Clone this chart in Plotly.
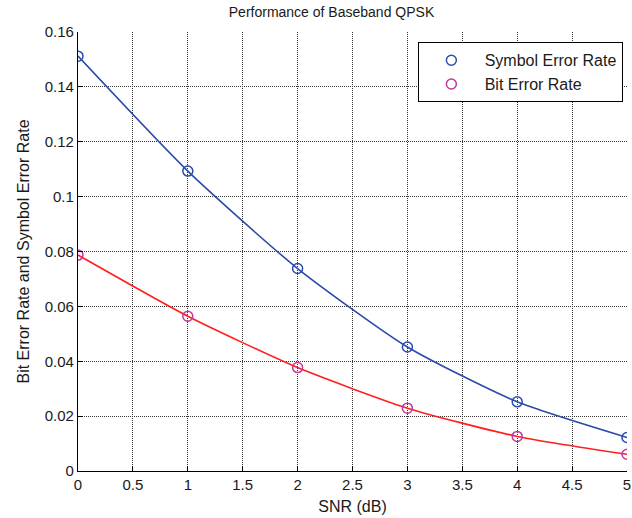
import plotly.graph_objects as go

snr_db = [0, 1, 2, 3, 4, 5]
symbol_error_rate = [0.1512, 0.1093, 0.0738, 0.0452, 0.0252, 0.0122]
bit_error_rate = [0.0787, 0.0564, 0.0377, 0.0229, 0.0126, 0.0061]
x_ticks = [0, 0.5, 1, 1.5, 2, 2.5, 3, 3.5, 4, 4.5, 5]
y_ticks = [0, 0.02, 0.04, 0.06, 0.08, 0.1, 0.12, 0.14, 0.16]
y_tick_text = ["0", "0.02", "0.04", "0.06", "0.08", "0.1", "0.12", "0.14", "0.16"]

ser_line = "#2b4ba8"
ser_marker = "#2b4bb0"
ber_line = "#ff1f1f"
ber_marker = "#c2399e"

fig = go.Figure()
fig.add_trace(go.Scatter(x=snr_db, y=symbol_error_rate, mode="lines",
                         line=dict(color=ser_line, width=1.6, shape="spline", smoothing=0.6),
                         showlegend=False, hoverinfo="skip"))
fig.add_trace(go.Scatter(x=snr_db, y=bit_error_rate, mode="lines",
                         line=dict(color=ber_line, width=1.6, shape="spline", smoothing=0.6),
                         showlegend=False, hoverinfo="skip"))
fig.add_trace(go.Scatter(x=snr_db, y=symbol_error_rate, mode="markers",
                         name="&nbsp;&nbsp;&nbsp;Symbol Error Rate",
                         marker=dict(symbol="circle-open", size=10, color=ser_marker,
                                     line=dict(width=1.5, color=ser_marker))))
fig.add_trace(go.Scatter(x=snr_db, y=bit_error_rate, mode="markers",
                         name="&nbsp;&nbsp;&nbsp;Bit Error Rate",
                         marker=dict(symbol="circle-open", size=10, color=ber_marker,
                                     line=dict(width=1.5, color=ber_marker))))

font_family = "Liberation Sans, Arial, sans-serif"
axis_common = dict(showgrid=True, gridcolor="#333", griddash="1px,1px", gridwidth=1,
                   showline=True, linecolor="black", linewidth=1.2,
                   ticks="inside", ticklen=5, tickcolor="black", zeroline=False,
                   ticklabeloverflow="allow", tickfont=dict(size=15))
fig.update_layout(
    width=632, height=518,
    margin=dict(l=78, r=1, t=32, b=47),
    paper_bgcolor="white", plot_bgcolor="white",
    font=dict(family=font_family, size=15, color="#1a1a1a"),
    title=dict(text="Performance of Baseband QPSK", x=331.5 / 632, xref="container", xanchor="center",
               y=1 - 12 / 518, yref="container", yanchor="middle", font=dict(size=14, color="#1a1a1a")),
    xaxis=dict(range=[0, 5], tickvals=x_ticks, ticktext=[str(v) for v in x_ticks],
               title=dict(text="SNR (dB)", standoff=8, font=dict(size=16)), **axis_common),
    yaxis=dict(range=[0, 0.16], tickvals=y_ticks, ticktext=y_tick_text,
               title=dict(text="Bit Error Rate and Symbol Error Rate", standoff=11, font=dict(size=16)),
               **axis_common),
    legend=dict(x=0.993, y=0.977, xanchor="right", yanchor="top",
                bgcolor="white", bordercolor="black", borderwidth=1.2,
                font=dict(size=16, color="#1a1a1a"), indentation=12,
                entrywidth=228, tracegroupgap=0),
)

fig.write_html("out.html")
